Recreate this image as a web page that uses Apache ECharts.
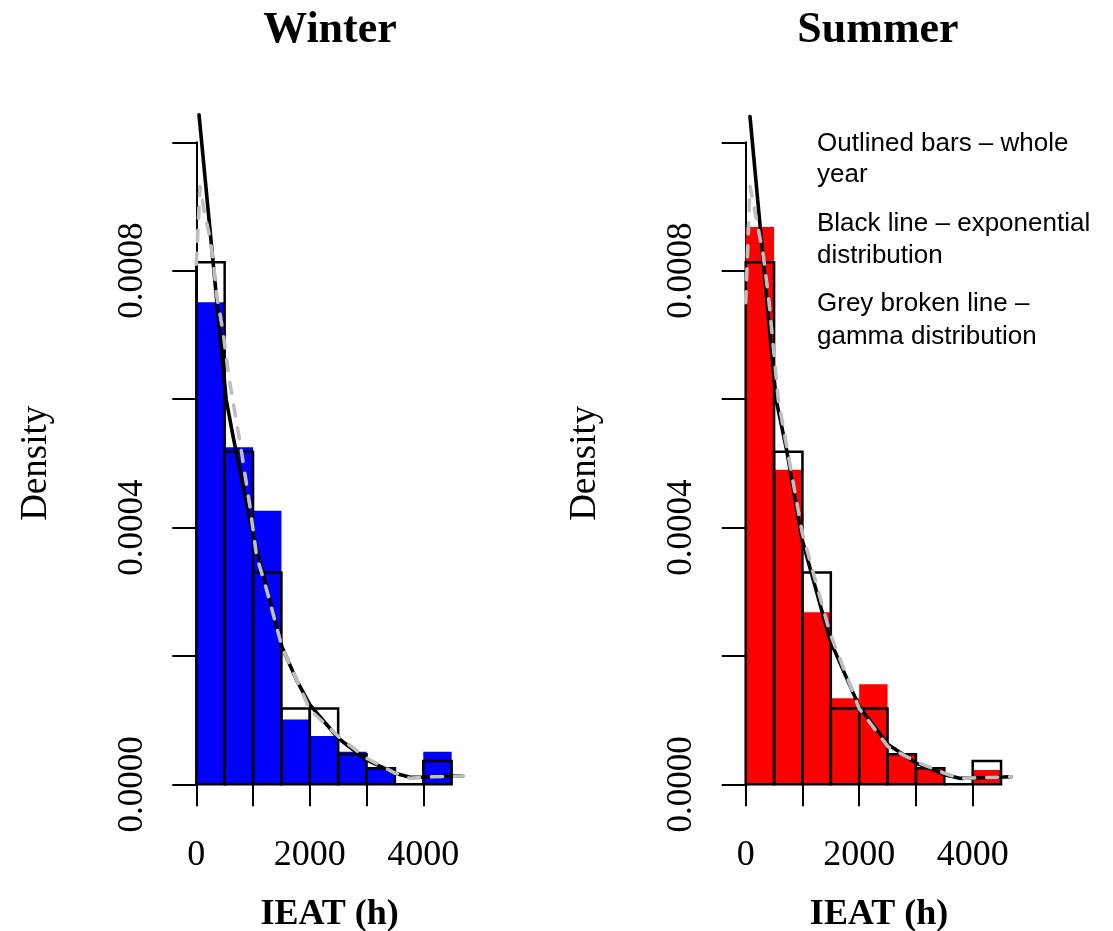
<!DOCTYPE html>
<html>
<head>
<meta charset="utf-8">
<script src="https://cdn.jsdelivr.net/npm/echarts@6/dist/echarts.min.js"></script>
<style>html,body{margin:0;padding:0;background:#fff;}#c{width:1113px;height:931px;}</style>
</head>
<body>
<div id="c"></div>
<script>
// ---- data ----
const BIN_STARTS = [0, 500, 1000, 1500, 2000, 2500, 3000, 3500, 4000];
const BIN_WIDTH = 500;
const WHOLE_YEAR = [0.000813, 0.000518, 0.000330, 0.000118, 0.000118, 0.0000467, 0.0000249, 0, 0.0000363];
const WINTER = [0.000751, 0.000525, 0.000426, 0.000101, 0.0000752, 0.0000508, 0.0000249, 0, 0.0000508];
const SUMMER = [0.000868, 0.000490, 0.000268, 0.000134, 0.000156, 0.0000472, 0.0000240, 0, 0.0000223];

const WINTER_EXP_X = [48, 527, 652, 828, 1004, 1181, 1510, 1769, 2000, 2502, 3003, 3501, 3766, 4000, 4293, 4690];
const WINTER_EXP_Y = [0.001043, 0.000599, 0.000540, 0.000465, 0.000386, 0.000325, 0.000214, 0.000162, 0.000124, 0.0000717, 0.0000379, 0.0000171, 0.0000109, 0.0000109, 0.0000129, 0.0000129];
const WINTER_GAM_X = [0, 65, 153, 241, 300, 359, 476, 564, 682, 800, 946, 1064, 1240, 1510, 2004, 2509, 3003, 3507, 3766, 4176, 4705];
const WINTER_GAM_Y = [0.00081, 0.000931, 0.000887, 0.000851, 0.000814, 0.000762, 0.000702, 0.000640, 0.000578, 0.000516, 0.000432, 0.000355, 0.000303, 0.000214, 0.000116, 0.0000741, 0.0000405, 0.0000171, 0.0000093, 0.0000118, 0.0000129];

const SUMMER_EXP_X = [76, 536, 722, 998, 1483, 2000, 2509, 3003, 3507, 3770, 4175, 4676];
const SUMMER_EXP_Y = [0.00104, 0.000599, 0.000520, 0.000380, 0.000225, 0.000121, 0.000062, 0.000033, 0.0000150, 0.0000093, 0.0000103, 0.0000118];
const SUMMER_GAM_X = [0, 76, 163, 310, 398, 445, 574, 998, 1483, 2000, 2509, 3003, 3507, 3770, 4175, 4676];
const SUMMER_GAM_Y = [0.00075, 0.000931, 0.000892, 0.000824, 0.000762, 0.000720, 0.000599, 0.000391, 0.000236, 0.000118, 0.0000586, 0.0000352, 0.0000171, 0.0000093, 0.0000103, 0.0000118];

const X_TICKS = [0, 1000, 2000, 3000, 4000];
const X_LABELS = [0, 2000, 4000];
const Y_TICKS = [0, 0.0002, 0.0004, 0.0006, 0.0008, 0.0010];
const Y_LABELS = [0, 0.0004, 0.0008];
const TITLES = ['Winter', 'Summer'];
const LEGEND_LINES = ['Outlined bars \u2013 whole', 'year', 'Black line \u2013 exponential', 'distribution', 'Grey broken line \u2013', 'gamma distribution'];

// ---- chart ----
const SERIF = 'Liberation Serif, Times New Roman, serif';
const SANS = 'Liberation Sans, Arial, sans-serif';
const chart = echarts.init(document.getElementById('c'), null, {renderer: 'canvas'});

const GRID_LEFTS = [196.3, 745.7];
const grids = GRID_LEFTS.map(l => ({left: l, top: 142.3, width: 266.7, height: 642, containLabel: false, outerBoundsMode: 'none'}));

function xAxis(i) {
  return {
    gridIndex: i, type: 'value', min: 0, max: 4700,
    axisLine: {show: false},
    axisTick: {show: true, inside: false, length: 22, customValues: X_TICKS, lineStyle: {color: '#000', width: 2}},
    axisLabel: {show: true, customValues: X_LABELS, margin: 53, fontFamily: SERIF, fontSize: 36, color: '#000',
      formatter: v => String(v)},
    splitLine: {show: false},
    name: 'IEAT (h)', nameLocation: 'middle', nameGap: 112,
    nameTextStyle: {fontFamily: SERIF, fontWeight: 'bold', fontSize: 36, color: '#000'}
  };
}
function yAxis(i) {
  return {
    gridIndex: i, type: 'value', min: 0, max: 0.0010, interval: 0.0002,
    axisLine: {show: true, lineStyle: {color: '#000', width: 2}},
    axisTick: {show: true, inside: false, length: 24, customValues: Y_TICKS, lineStyle: {color: '#000', width: 2}},
    axisLabel: {show: true, customValues: Y_LABELS, rotate: 90, margin: 46, fontFamily: SERIF, fontSize: 35, color: '#000',
      formatter: v => Number(v).toFixed(4)},
    splitLine: {show: false},
    name: 'Density', nameLocation: 'middle', nameGap: 142, nameRotate: 90,
    nameTextStyle: {fontFamily: SERIF, fontSize: 37, color: '#000'}
  };
}

function barSeries(i, vals, style, z) {
  return {
    type: 'custom', xAxisIndex: i, yAxisIndex: i, z: z, silent: true,
    data: BIN_STARTS.map((s, k) => [s, s + BIN_WIDTH, vals[k]]),
    renderItem: function (params, api) {
      const p0 = api.coord([api.value(0), api.value(2)]);
      const p1 = api.coord([api.value(1), 0]);
      return {type: 'rect', shape: {x: p0[0], y: p0[1], width: p1[0] - p0[0], height: p1[1] - p0[1]}, style: style};
    }
  };
}
function lineSeries(i, xs, ys, color, dashed, z) {
  return {
    type: 'line', xAxisIndex: i, yAxisIndex: i, z: z, clip: false, showSymbol: false, symbol: 'none', silent: true,
    data: xs.map((x, k) => [x, ys[k]]),
    lineStyle: {color: color, width: 3.6, type: dashed ? [11, 12] : 'solid', cap: 'round', join: 'round'}
  };
}

const FILLS = [WINTER, SUMMER];
const FILL_COLORS = ['#0000ff', '#ff0000'];
const EXPS = [[WINTER_EXP_X, WINTER_EXP_Y], [SUMMER_EXP_X, SUMMER_EXP_Y]];
const GAMS = [[WINTER_GAM_X, WINTER_GAM_Y], [SUMMER_GAM_X, SUMMER_GAM_Y]];

const series = [];
[0, 1].forEach(i => {
  series.push(barSeries(i, FILLS[i], {fill: FILL_COLORS[i], stroke: null}, 1));
  series.push(barSeries(i, WHOLE_YEAR, {fill: 'none', stroke: '#000', lineWidth: 2.5}, 2));
  series.push(lineSeries(i, EXPS[i][0], EXPS[i][1], '#000', false, 3));
  series.push(lineSeries(i, GAMS[i][0], GAMS[i][1], '#bebebe', true, 4));
});

const TITLE_X = [325, 873];
const LEGEND_Y = [141.7, 173, 221.7, 254, 301.7, 335];

chart.setOption({
  animation: false,
  backgroundColor: '#fff',
  title: TITLES.map((t, i) => ({
    text: t, left: TITLE_X[i], top: 4, textAlign: 'center',
    textStyle: {fontFamily: SERIF, fontWeight: 'bold', fontSize: 44, color: '#000'}
  })),
  grid: grids,
  xAxis: [xAxis(0), xAxis(1)],
  yAxis: [yAxis(0), yAxis(1)],
  series: series,
  graphic: LEGEND_LINES.map((t, k) => ({
    type: 'text', left: 817, top: LEGEND_Y[k] - 11,
    style: {text: t, fontFamily: SANS, fontSize: 26, fill: '#000'}
  }))
});
</script>
</body>
</html>
